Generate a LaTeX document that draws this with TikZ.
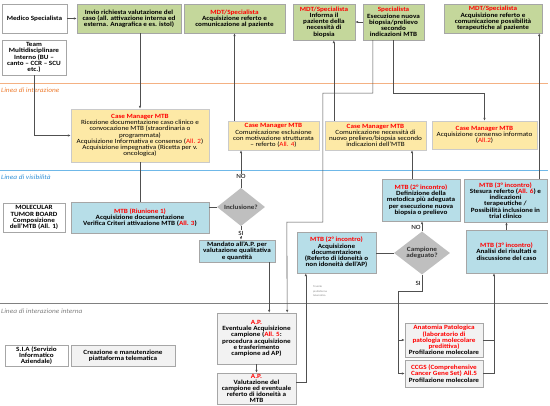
\documentclass[tikz,border=0pt]{standalone}
\usepackage{fontspec}
\setmainfont{Carlito}[FakeStretch=1.12]
\usetikzlibrary{shapes.geometric,arrows.meta}
\definecolor{boxgreen}{HTML}{C4D79B}
\definecolor{boxyellow}{HTML}{FDE9A6}
\definecolor{boxblue}{HTML}{B7DEE8}
\definecolor{boxgray}{HTML}{F2F2F2}
\definecolor{diagray}{HTML}{BFBFBF}
\definecolor{boxline}{HTML}{A6A6A6}
\definecolor{linkgray}{HTML}{505050}
\definecolor{mtbred}{HTML}{FF0000}
\definecolor{lineorange}{HTML}{F4B183}
\definecolor{txtorange}{HTML}{ED7D31}
\definecolor{lineblue}{HTML}{6FB8E8}
\definecolor{txtblue}{HTML}{2E8FD6}
\newcommand{\redtxt}[1]{\textcolor{mtbred}{#1}}
\newcommand{\boxfont}{\fontsize{6.4}{6.2}\selectfont}

\begin{document}
\begin{tikzpicture}[x=1pt,y=-1pt,
    every node/.style={font=\boxfont,align=center,inner sep=1pt},
    box/.style={draw=boxline,line width=0.4pt},
    whitebox/.style={box,fill=white,font=\boxfont\bfseries},
    greenbox/.style={box,fill=boxgreen,font=\boxfont\bfseries},
    yellowbox/.style={box,draw=boxline!60,fill=boxyellow},
    bluebox/.style={box,fill=boxblue,font=\boxfont\bfseries},
    graybox/.style={box,fill=boxgray,font=\boxfont\bfseries},
    decision/.style={diamond,fill=diagray,inner sep=0pt,text=black!80,font=\boxfont\bfseries},
    linelabel/.style={anchor=west,font=\fontsize{6.6}{7}\selectfont\itshape},
    link/.style={draw=linkgray,line width=0.6pt},
    >={Latex[length=3pt,width=2.5pt]}]
    \useasboundingbox (0,0) rectangle (550,406);

    % swimlane lines
    \draw[lineorange,line width=0.8pt] (0,83) -- (548,83);
    \node[linelabel,text=txtorange] at (0,90) (lint) {Linea di interazione};
    \draw[lineblue,line width=0.8pt] (0,170) -- (548,170);
    \node[linelabel,text=txtblue] at (0,177) (lvis) {Linea di visibilità};
    \draw[gray,line width=0.8pt] (0,303) -- (548,303);
    \node[linelabel,text=gray] at (0,311) (linter) {Linea di interazione interna};

    % top row
    \node[whitebox,minimum width=65pt,minimum height=29pt] at (34.5,18.5) (med) {Medico Specialista};
    \node[greenbox,minimum width=104pt,minimum height=29pt] at (129,18.5) (inv) {Invio richiesta valutazione del\\caso (all. attivazione interna ed\\esterna. Anagrafica e es. istol)};
    \node[greenbox,minimum width=101pt,minimum height=29pt] at (234.5,18.5) (mdt1) {\redtxt{MDT/Specialista}\\Acquisizione referto e\\comunicazione al paziente};
    \node[greenbox,minimum width=62pt,minimum height=36pt] at (324,22) (mdt2) {\redtxt{MDT/Specialista}\\Informa il\\paziente della\\necessità di\\biopsia};
    \node[greenbox,minimum width=61pt,minimum height=36pt] at (393.5,22) (spec) {\redtxt{Specialista}\\Esecuzione nuova\\biopsia/prelievo\\secondo\\indicazioni MTB};
    \node[greenbox,minimum width=98pt,minimum height=29pt] at (493,18.5) (mdt3) {\redtxt{MDT/Specialista}\\Acquisizione referto e\\comunicazione possibilità\\terapeutiche al paziente};
    \node[whitebox,minimum width=64pt,minimum height=35pt] at (34,57.5) (team) {Team\\Multidisciplinare\\Interno (BU --\\canto -- CCR -- SCU\\etc.)};

    % case manager row
    \node[yellowbox,minimum width=138pt,minimum height=53pt] at (140,135.5) (cm1) {\redtxt{\bfseries Case Manager MTB}\\Ricezione documentazione caso clinico e\\convocazione MTB (straordinaria o\\programmata)\\Acquisizione Informativa e consenso (\redtxt{All. 2})\\Acquisizione impegnativa (Ricetta per v.\\oncologica)};
    \node[yellowbox,minimum width=91pt,minimum height=29pt] at (273.5,135.5) (cm2) {\redtxt{\bfseries Case Manager MTB}\\Comunicazione esclusione\\con motivazione strutturata\\-- referto (\redtxt{All. 4})};
    \node[yellowbox,minimum width=101pt,minimum height=29pt] at (375.5,135.5) (cm3) {\redtxt{\bfseries Case Manager MTB}\\Comunicazione necessità di\\nuovo prelievo/biopsia secondo\\indicazioni dell'MTB};
    \node[yellowbox,minimum width=105pt,minimum height=28pt] at (484.5,135) (cm4) {\redtxt{\bfseries Case Manager MTB}\\Acquisizione consenso informato\\(\redtxt{All.2})};

    % MTB row
    \node[whitebox,minimum width=62pt,minimum height=29pt] at (34,217.5) (mol) {MOLECULAR\\TUMOR BOARD\\Composizione\\dell'MTB (All. 1)};
    \node[bluebox,minimum width=138pt,minimum height=31pt] at (140,217.5) (mtb1) {\redtxt{MTB (Riunione 1)}\\Acquisizione documentazione\\Verifica Criteri attivazione MTB (\redtxt{All. 3})};
    \node[decision,minimum width=48pt,minimum height=23pt] at (241,207) (inc) {Inclusione?};
    \node[bluebox,minimum width=76pt,minimum height=22pt] at (237,251) (mand) {Mandato all'A.P. per\\valutazione qualitativa\\e quantità};
    \node[bluebox,minimum width=78pt,minimum height=42pt] at (421,200) (mtbdef) {\redtxt{MTB (2° incontro)}\\Definizione della\\metodica più adeguata\\per esecuzione nuova\\biopsia o prelievo};
    \node[bluebox,minimum width=83pt,minimum height=43pt] at (505.5,200.5) (mtbste) {\redtxt{MTB (3° incontro)}\\Stesura referto (\redtxt{All. 6}) e\\indicazioni\\terapeutiche /\\Possibilità inclusione in\\trial clinico};
    \node[bluebox,minimum width=79pt,minimum height=41pt] at (336.5,252.5) (mtbacq) {\redtxt{MTB (2° incontro)}\\Acquisizione\\documentazione\\(Referto di idoneità o\\non idoneità dell'AP)};
    \node[decision,minimum width=56pt,minimum height=30pt] at (422,253) (camp) {Campione\\adeguato?};
    \node[bluebox,minimum width=81pt,minimum height=43pt] at (506.5,251.5) (mtbana) {\redtxt{MTB (3° incontro)}\\Analisi dei risultati e\\discussione del caso};
    \node[anchor=north west,align=left,text=gray,font=\fontsize{2.6}{4.2}\selectfont] at (312,285) (tram) {Tramite\\piattaforma\\telematica};

    % internal row
    \node[graybox,minimum width=79pt,minimum height=51pt] at (256.5,338.5) (ap1) {\redtxt{A.P.}\\Eventuale Acquisizione\\campione (\redtxt{All. 5}:\\procedura acquisizione\\e trasferimento\\campione ad AP)};
    \node[graybox,minimum width=79pt,minimum height=31pt] at (256.5,388.5) (ap2) {\redtxt{A.P.}\\Valutazione del\\campione ed eventuale\\referto di idoneità a\\MTB};
    \node[graybox,minimum width=78pt,minimum height=34pt] at (444,340) (anat) {\redtxt{Anatomia Patologica}\\\redtxt{(laboratorio di}\\\redtxt{patologia molecolare}\\\redtxt{predittiva)}\\Profilazione molecolare};
    \node[graybox,minimum width=78pt,minimum height=27pt] at (444,373.5) (ccgs) {\redtxt{CCGS (Comprehensive}\\\redtxt{Cancer Gene Set) All.5}\\Profilazione molecolare};
    \node[whitebox,minimum width=63pt,minimum height=21pt] at (36.5,355.5) (sia) {S.I.A (Servizio\\Informatico\\Aziendale)};
    \node[graybox,minimum width=104pt,minimum height=21pt] at (123,355.5) (crea) {Creazione e manutenzione\\piattaforma telematica};

    % connectors
    \draw[link,->] (med) -- (inv);
    \draw[link,->] (spec) -- (mdt2);
    \draw[link,->] (inv.south -| cm1.north) -- (cm1.north);
    \draw[link,->] (team.south) |- (cm1.west);
    \draw[link] (cm1.south) -- (mtb1.north);
    \draw[link,->] (cm2.north -| mdt1.south) -- (mdt1.south);
    \draw[link,->] ([xshift=9pt]cm3.north west) -- ([xshift=9pt]cm3.north west |- mdt2.south);
    \draw[link,->] (spec.south) -- ++(0,53) -| (cm4.north);
    \draw[link,->] ([xshift=10pt]spec.south west) -- ++(0,53) -- ++(-50,0) -- ++(0,129) -- ++(-36,0) -- ([xshift=-9pt]ap1.north east);
    \draw[link,->] ([xshift=-8pt]mtbste.north east) -- ([xshift=-8pt]mtbste.north east |- mdt3.south);
    \draw[link,->] ([xshift=-9pt]mtbdef.north) -- ([xshift=-9pt]mtbdef.north |- cm3.south);
    \draw[link] (inc.west) -- (inc.west -| mtb1.east);
    \draw[link,->] (inc.north) -- node[fill=white,pos=0.3,inner sep=0.5pt] {NO} (inc.north |- cm2.south);
    \draw[link,->] (inc.south) -- node[fill=white,inner sep=0.5pt] {SI} (inc.south |- mand.north);
    \draw[link,->] ([xshift=-6pt]mand.south east) -- ([xshift=-6pt]mand.south east |- ap1.north);
    \draw[link,->] (ap1) -- (ap2);
    \draw[link,->] ([yshift=6.5pt]ap2.east) -| ([xshift=9pt]mtbacq.south west);
    \draw[link] (camp.west) -- (camp.west -| mtbacq.east);
    \draw[link,->] (camp.north) -- node[left,pos=0.4] {NO} (camp.north |- mtbdef.south);
    \draw[link] (camp.south) -- node[left,pos=0.5] {SI} ++(0,17) -- ++(-24,0) coordinate (sibranch);
    \draw[link,->] (sibranch) |- (anat.west);
    \draw[link,->] (sibranch) |- (ccgs.west);
    \draw[link] (anat.east) -- ++(11,0);
    \draw[link,->] (ccgs.east) -| ([xshift=-12.5pt]mtbana.south);
    \draw[link,->] (mtbana.north) -- (mtbana.north |- mtbste.south);
\end{tikzpicture}
\end{document}
